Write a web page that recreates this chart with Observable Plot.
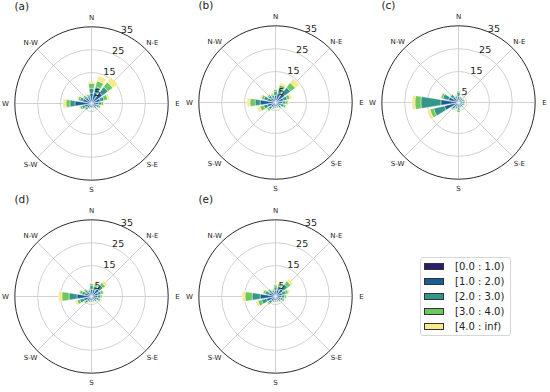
<!DOCTYPE html>
<html>
<head>
<meta charset="utf-8">
<script src="https://cdn.jsdelivr.net/npm/d3@7"></script>
<script src="https://cdn.jsdelivr.net/npm/@observablehq/plot@0.6"></script>
<style>
  body { margin: 0; background: #fff; font-family: "DejaVu Sans", sans-serif; }
  #wrap { position: relative; width: 550px; height: 392px; overflow: hidden; background: #fff; }
  .panel { position: absolute; }
  .panel svg { background: transparent !important; max-width: none !important; }
  #legend { position: absolute; left: 420px; top: 257px; width: 91px; height: 79px; border: 1px solid #d6d6d6; border-radius: 3px; background: #fff; box-sizing: border-box; }
  .row { position: absolute; left: 0; height: 12px; width: 90px; }
  .sw { position: absolute; left: 3px; top: 2px; width: 20px; height: 7px; border: 0.8px solid #333; box-sizing: border-box; }
  .lb { position: absolute; left: 34px; top: -1px; font-size: 10px; line-height: 13px; color: #222; white-space: nowrap; }
</style>
</head>
<body>
<div id="wrap"></div>
<script>
// ---- data ----
const directions = ["N","NNE","NE","ENE","E","ESE","SE","SSE","S","SSW","SW","WSW","W","WNW","NW","NNW"];
const speedBins = ["[0.0 : 1.0)","[1.0 : 2.0)","[2.0 : 3.0)","[3.0 : 4.0)","[4.0 : inf)"];
const binColors = ["#2c1e6c","#1b5e96","#35958b","#6ec862","#f7e98c"];
const compassLabels = ["N","N-E","E","S-E","S","S-W","W","N-W"];
const ringValues = [5, 15, 25, 35];
const panelLabels = ["(a)","(b)","(c)","(d)","(e)"];

// frequency (%) per speed bin (rows) and direction (columns, N..NNW)
const freqA = [
  [2.0,2.0,2.1,1.9,1.9,1.8,1.8,1.7,1.7,1.8,1.8,1.9,2.1,1.9,1.9,1.9],
  [3.9,4.4,5.2,3.5,2.6,2.2,1.7,1.5,1.5,1.5,2.2,2.6,6.6,3.5,2.6,2.2],
  [2.2,2.6,3.1,1.7,1.3,0.9,0.7,0.4,0.4,0.4,0.9,1.3,2.2,1.3,0.9,0.9],
  [2.2,2.6,2.6,1.7,0.9,0.7,0.2,0.2,0.2,0.2,0.4,0.9,1.7,0.9,0.7,0.7],
  [0.9,2.2,2.6,0.9,0.4,0.2,0.0,0.0,0.0,0.0,0.0,0.4,1.3,0.4,0.2,0.2]
];
const freqB = [
  [1.9,2.0,2.1,1.9,1.9,1.8,1.8,1.7,1.7,1.8,1.8,2.0,2.1,1.9,1.9,1.9],
  [2.6,3.5,4.4,3.1,2.6,2.2,1.7,1.5,1.5,1.5,2.2,3.1,6.1,3.1,2.2,1.7],
  [1.7,2.2,3.1,1.7,1.3,1.3,0.9,0.7,0.7,0.7,1.3,1.7,2.2,1.7,1.1,1.1],
  [0.9,1.7,2.6,1.3,1.1,0.9,0.4,0.2,0.2,0.4,0.9,1.7,2.2,1.1,0.7,0.7],
  [0.4,0.9,2.2,0.9,0.4,0.4,0.2,0.2,0.2,0.0,0.4,1.3,1.3,0.7,0.4,0.4]
];
const freqC = [
  [1.9,1.8,1.8,1.8,1.8,1.8,1.8,1.8,1.9,1.8,1.9,2.1,2.2,2.0,1.9,1.8],
  [2.2,1.3,1.3,1.3,1.5,1.3,1.3,1.3,1.7,1.5,1.7,5.7,7.0,3.9,2.6,1.7],
  [1.7,0.9,0.9,0.9,0.9,0.9,0.7,0.7,1.3,0.9,1.3,4.8,8.7,2.6,1.3,0.9],
  [0.7,0.2,0.2,0.4,0.4,0.4,0.4,0.4,0.9,0.4,0.7,1.7,2.6,0.9,0.4,0.4],
  [0.2,0.2,0.2,0.2,0.2,0.2,0.2,0.2,0.4,0.2,0.2,1.3,1.3,0.4,0.2,0.2]
];
const freqD = [
  [1.9,1.9,2.0,1.9,1.9,1.8,1.8,1.7,1.7,1.8,1.8,1.9,2.1,1.9,1.9,1.8],
  [2.6,2.6,3.5,2.6,2.2,2.2,1.7,1.5,1.5,1.5,2.2,3.1,5.7,2.6,2.2,1.7],
  [1.7,1.7,2.2,1.3,1.3,0.9,0.7,0.7,0.7,0.7,0.9,1.7,3.5,1.3,0.9,0.9],
  [0.9,0.9,1.3,1.1,0.7,0.7,0.2,0.2,0.2,0.2,0.7,1.3,3.1,1.1,0.7,0.4],
  [0.4,0.7,1.1,0.4,0.2,0.2,0.2,0.2,0.2,0.2,0.2,0.9,1.5,0.4,0.2,0.2]
];
const freqE = [
  [1.9,1.9,2.0,1.9,1.9,1.8,1.8,1.7,1.7,1.8,1.8,2.0,2.1,1.9,1.9,1.8],
  [2.2,2.6,3.5,2.6,2.2,2.0,1.7,1.5,1.5,1.5,2.2,3.5,6.1,2.6,2.2,1.7],
  [1.5,1.7,2.6,1.7,1.3,1.1,0.7,0.7,0.7,0.7,1.3,2.2,3.5,1.7,0.9,0.9],
  [0.9,1.1,1.7,1.1,0.9,0.7,0.2,0.2,0.2,0.2,0.7,1.7,3.1,0.9,0.7,0.4],
  [0.4,0.7,1.3,0.7,0.4,0.2,0.2,0.2,0.2,0.2,0.2,0.9,1.3,0.4,0.2,0.2]
];
const panelFreqs = [freqA, freqB, freqC, freqD, freqE];

// ---- layout ----
const R = 76.7;                 // outer circle radius (px)
const PW = 184, PH = 196, CX = 92, CY = 102;
const panelCenters = [[91,103],[275,102],[458,102],[91,296],[275,296]];
const radial = d3.scaleLinear().domain([1.46, 35]).range([0, 1]).clamp(true);
const rad = deg => deg * Math.PI / 180;
const sectorStep = 360 / directions.length;
const halfOpen = sectorStep * 0.8 / 2;

function wedges(freq) {
  const out = [];
  directions.forEach((d, i) => {
    let cum = 0;
    speedBins.forEach((b, j) => {
      const v = freq[j][i];
      const r0 = radial(cum), r1 = radial(cum + v);
      cum += v;
      if (r1 - r0 <= 1e-6) return;
      const c = i * sectorStep, id = i + "-" + j, n = 8;
      const pts = [];
      for (let k = 0; k <= n; k++) { const a = rad(c - halfOpen + 2 * halfOpen * k / n); pts.push({id, bin: b, x: r1 * Math.sin(a), y: r1 * Math.cos(a)}); }
      for (let k = n; k >= 0; k--) { const a = rad(c - halfOpen + 2 * halfOpen * k / n); pts.push({id, bin: b, x: r0 * Math.sin(a), y: r0 * Math.cos(a)}); }
      pts.push({...pts[0]});
      out.push(...pts);
    });
  });
  return out;
}

const wrap = document.getElementById("wrap");
const labelAngle = 22.5;

panelFreqs.forEach((freq, p) => {
  const [cx, cy] = panelCenters[p];
  const spokes = compassLabels.map((_, k) => k * 45);
  const chart = Plot.plot({
    width: PW, height: PH, margin: 0,
    style: {fontFamily: "DejaVu Sans", background: "transparent", color: "#222"},
    x: {domain: [-CX / R, (PW - CX) / R], axis: null},
    y: {domain: [-(PH - CY) / R, CY / R], axis: null},
    r: {type: "linear", domain: [0, 1], range: [0, R]},
    color: {domain: speedBins, range: binColors},
    marks: [
      Plot.link(spokes, {x1: () => 0, y1: () => 0, x2: a => Math.sin(rad(a)), y2: a => Math.cos(rad(a)), stroke: "#cccccc", strokeWidth: 0.9}),
      Plot.dot(ringValues.slice(0, 3), {x: () => 0, y: () => 0, r: v => radial(v), stroke: "#cccccc", strokeWidth: 0.9, fill: "none"}),
      Plot.line(wedges(freq), {x: "x", y: "y", z: "id", fill: "bin", stroke: "white", strokeWidth: 0.4, curve: "linear"}),
      Plot.dot([35], {x: () => 0, y: () => 0, r: v => radial(v), stroke: "#2a2a2a", strokeWidth: 1, fill: "none"}),
      Plot.text(compassLabels, {x: (d, k) => 1.122 * Math.sin(rad(k * 45)), y: (d, k) => 1.122 * Math.cos(rad(k * 45)), text: d => d, fontSize: 7, fill: "#222"}),
      Plot.text(ringValues, {x: v => radial(v) * Math.sin(rad(labelAngle)), y: v => radial(v) * Math.cos(rad(labelAngle)), text: v => String(v), textAnchor: "start", lineAnchor: "bottom", fontSize: 9.5, fill: "#222", dx: 0, dy: 0}),
      Plot.text([panelLabels[p]], {frameAnchor: "top-left", text: d => d, dx: 15, dy: 1, lineAnchor: "top", fontSize: 10.5, fill: "#222"})
    ]
  });
  const div = document.createElement("div");
  div.className = "panel";
  div.style.left = (cx - CX) + "px";
  div.style.top = (cy - CY) + "px";
  div.appendChild(chart);
  wrap.appendChild(div);
});

// ---- legend ----
const legend = document.createElement("div");
legend.id = "legend";
const rowCenters = [8.5, 24, 39, 54, 69];
speedBins.forEach((b, i) => {
  const row = document.createElement("div");
  row.className = "row";
  row.style.top = (rowCenters[i] - 6) + "px";
  const sw = document.createElement("div");
  sw.className = "sw";
  sw.style.background = binColors[i];
  const lb = document.createElement("div");
  lb.className = "lb";
  lb.textContent = b;
  row.appendChild(sw); row.appendChild(lb);
  legend.appendChild(row);
});
wrap.appendChild(legend);
</script>
</body>
</html>
